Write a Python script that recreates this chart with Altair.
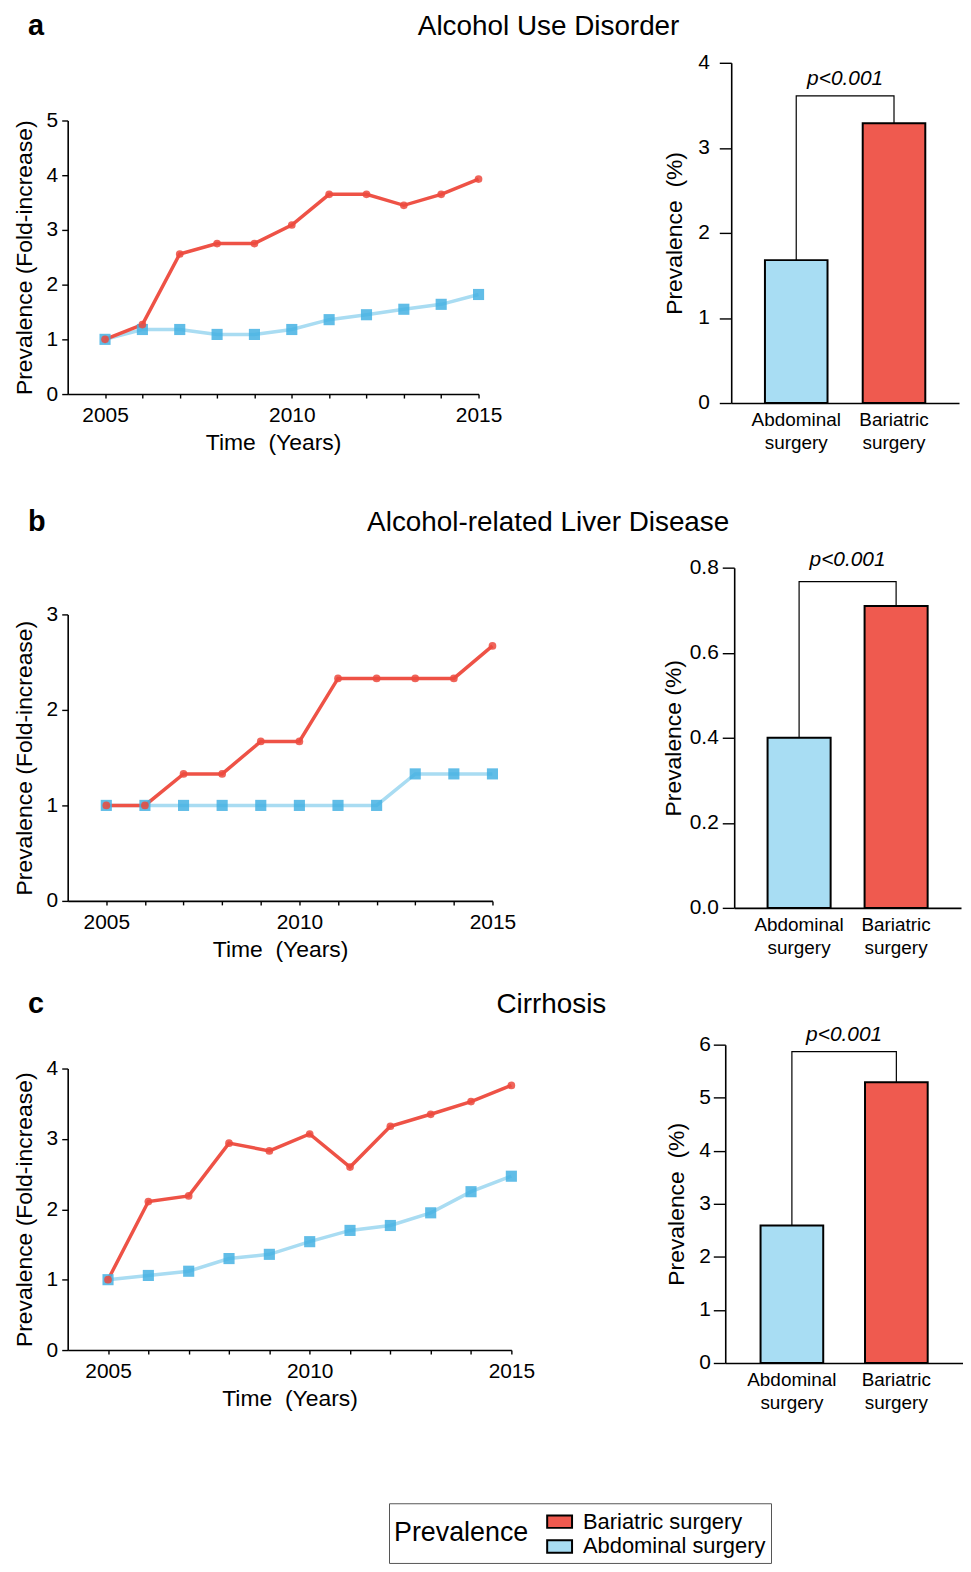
import altair as alt
import pandas as pd

FONT = "Liberation Sans"
NBSP = "\u00a0"
ABD = "Abdominal surgery"
BAR = "Bariatric surgery"

years = [2005, 2006, 2007, 2008, 2009, 2010, 2011, 2012, 2013, 2014, 2015]

# Panel a: Alcohol Use Disorder (fold-increase)
aud_bariatric = [1.0, 1.27, 2.56, 2.75, 2.75, 3.09, 3.65, 3.65, 3.45, 3.65, 3.93]
aud_abdominal = [1.0, 1.18, 1.18, 1.09, 1.09, 1.18, 1.36, 1.45, 1.55, 1.64, 1.82]
# Panel b: Alcohol-related Liver Disease
ald_bariatric = [1.0, 1.0, 1.33, 1.33, 1.67, 1.67, 2.33, 2.33, 2.33, 2.33, 2.67]
ald_abdominal = [1.0, 1.0, 1.0, 1.0, 1.0, 1.0, 1.0, 1.0, 1.33, 1.33, 1.33]
# Panel c: Cirrhosis
cir_bariatric = [1.0, 2.11, 2.19, 2.94, 2.83, 3.07, 2.60, 3.18, 3.35, 3.53, 3.76]
cir_abdominal = [1.0, 1.06, 1.12, 1.30, 1.36, 1.54, 1.70, 1.77, 1.95, 2.25, 2.47]

# Bar charts: prevalence (%)
bar_categories = [ABD, BAR]
legend_order = [BAR, ABD]
aud_bar = [1.68, 3.29]
ald_bar = [0.40, 0.71]
cir_bar = [2.59, 5.29]
aud_bracket = 3.61
ald_bracket = 0.767
cir_bracket = 5.87
p_label = "p<0.001"

RED_BAR = "#EF5A4F"
BLUE_BAR = "#A8DDF3"
RED_LINE = "#EE5246"
BLUE_LINE = "#A9DCF2"
RED_PT = "#EC4A3E"
BLUE_PT = "#45B1E3"

LEGEND = alt.Legend(
    title=NBSP + "Prevalence", orient="none", legendX=323, legendY=1448,
    titleOrient="left", titleFontSize=27, titleFontWeight="normal", titleColor="black",
    titleFont=FONT, labelFont=FONT, labelFontSize=22, labelColor="black", labelLimit=400,
    symbolType="M-1,-0.5L1,-0.5L1,0.5L-1,0.5Z", symbolSize=625,
    symbolStrokeColor="black", symbolStrokeWidth=2, symbolOpacity=1,
    strokeColor="#555555", fillColor="white", padding=5, rowPadding=0,
    labelOffset=10, titlePadding=17,
    labelExpr="datum.label + '" + NBSP * 6 + "'",
)


def line_chart(panel, abd, bar, ymax, yticks, width, height, top, title_offset):
    n = len(years)
    df = pd.DataFrame({
        "year": years + years,
        "value": abd + bar,
        "group": [ABD] * n + [BAR] * n,
    })
    x = alt.X("year:Q", scale=alt.Scale(domain=[2004, 2015], nice=False, zero=False),
              axis=alt.Axis(values=years, format="d",
                            labelExpr="datum.value % 5 === 0 ? datum.label : ''",
                            title="Time" + NBSP + " (Years)", tickSize=4, labelPadding=7,
                            titlePadding=6, labelFontSize=21, titleFontSize=23,
                            labelFlush=False, labelOverlap=False))
    y = alt.Y("value:Q", scale=alt.Scale(domain=[0, ymax], range=[height, top], nice=False, zero=True),
              axis=alt.Axis(values=yticks, title="Prevalence (Fold-increase)", tickSize=6,
                            labelPadding=4, titlePadding=10, labelFontSize=21,
                            titleFontSize=23, labelOverlap=False))
    base = alt.Chart(df).encode(x=x, y=y)
    lines = base.mark_line(strokeWidth=3.5).encode(
        stroke=alt.Stroke("group:N", scale=alt.Scale(domain=[ABD, BAR], range=[BLUE_LINE, RED_LINE]), legend=None)
    )
    pts = base.mark_point(filled=True, opacity=0.85).encode(
        fill=alt.Fill("group:N", scale=alt.Scale(domain=[ABD, BAR], range=[BLUE_PT, RED_PT]), legend=None),
        shape=alt.Shape("group:N", scale=alt.Scale(domain=[ABD, BAR], range=["square", "circle"]), legend=None),
        size=alt.Size("group:N", scale=alt.Scale(domain=[ABD, BAR], range=[125, 60]), legend=None),
    )
    return alt.layer(lines, pts).properties(
        width=width, height=height,
        title=alt.TitleParams(panel, anchor="start", frame="group", dx=-40, offset=title_offset,
                              fontSize=29, fontWeight="bold", font=FONT, color="black"),
    )


def bar_chart(vals, bracket_y, ymax, yticks, fmt, ytitle, width, height, pi, po, text_dx, text_dy,
              label_pad, title_pad, row_title, title_dx, title_offset):
    bdf = pd.DataFrame({"group": bar_categories, "value": vals})
    xs = alt.Scale(domain=bar_categories, paddingInner=pi, paddingOuter=po)
    xaxis = alt.Axis(title=None, labelAngle=0, ticks=False, labelExpr="split(datum.label, ' ')",
                     labelFontSize=19, labelLineHeight=23, labelPadding=8)
    ys = alt.Scale(domain=[0, ymax], nice=False)
    yaxis = alt.Axis(values=yticks, format=fmt, title=ytitle, tickSize=12,
                     labelPadding=label_pad, titlePadding=title_pad, labelFontSize=21,
                     titleFontSize=23, labelOverlap=False)
    X = alt.X("group:N", scale=xs, axis=xaxis, sort=bar_categories)
    Y = alt.Y("value:Q", scale=ys, axis=yaxis)
    bars = alt.Chart(bdf).mark_bar(stroke="black", strokeWidth=2).encode(
        x=X, y=Y,
        color=alt.Color("group:N", scale=alt.Scale(domain=legend_order, range=[RED_BAR, BLUE_BAR]),
                        legend=LEGEND),
    )
    brdf = pd.DataFrame({"group": [ABD, ABD, BAR, BAR],
                         "value": [vals[0], bracket_y, bracket_y, vals[1]],
                         "step": [0, 1, 2, 3]})
    bracket = alt.Chart(brdf).mark_line(color="black", strokeWidth=1.2).encode(
        x=X, y=Y, order="step:Q")
    pdf = pd.DataFrame({"group": [ABD], "value": [bracket_y], "label": [p_label]})
    ptext = alt.Chart(pdf).mark_text(font=FONT, fontSize=21, fontStyle="italic",
                                     baseline="bottom", dy=text_dy, dx=text_dx, color="black").encode(
        x=alt.X("group:N", scale=xs, axis=xaxis, sort=bar_categories, bandPosition=1),
        y=Y, text="label:N")
    return alt.layer(bars, bracket, ptext).properties(
        width=width, height=height,
        title=alt.TitleParams(row_title, anchor="start", frame="group", dx=title_dx, offset=title_offset,
                              fontSize=28, fontWeight="normal", font=FONT, color="black"),
    )


PCT2 = "Prevalence" + NBSP + " (%)"

lineA = line_chart("a", aud_abdominal, aud_bariatric, 5, [0, 1, 2, 3, 4, 5], 413, 333, 58, 22)
barA = bar_chart(aud_bar, aud_bracket, 4, [0, 1, 2, 3, 4], "d", PCT2, 229, 342,
                 0.36, 0.345, 17.7, -7, 10, 11, "Alcohol Use Disorder", -315, 11)
lineB = line_chart("b", ald_abdominal, ald_bariatric, 3, [0, 1, 2, 3], 427, 335, 47, 30.5)
barB = bar_chart(ald_bar, ald_bracket, 0.8, [0, 0.2, 0.4, 0.6, 0.8], ".1f", "Prevalence (%)", 228, 342,
                 0.35, 0.344, 17, -12, 4, 4, "Alcohol-related Liver Disease", -369, 12)
lineC = line_chart("c", cir_abdominal, cir_bariatric, 4, [0, 1, 2, 3, 4], 446, 307, 24, 25.5)
barC = bar_chart(cir_bar, cir_bracket, 6, [0, 1, 2, 3, 4, 5, 6], "d", PCT2, 239, 320,
                 0.4, 0.338, 21, -7, 3, 10, "Cirrhosis", -230, 4.5)

rowA = alt.hconcat(lineA, barA, spacing=-85)
rowB = alt.hconcat(lineB, barB, spacing=-150)
rowC = alt.hconcat(lineC, barC, spacing=-39)

chart = alt.vconcat(alt.vconcat(rowA, rowB, spacing=53.5), rowC, spacing=28).properties(
    padding={"left": 5, "top": 0, "right": 0, "bottom": 0}
).configure_view(
    stroke=None
).configure_axis(
    grid=False, domainColor="black", tickColor="black", labelColor="black", titleColor="black",
    titleFontWeight="normal", labelFont=FONT, titleFont=FONT, domainWidth=1.6, tickWidth=1.4,
).configure_title(font=FONT)

chart.save("out.html", embed_options={"renderer": "svg", "actions": False})
